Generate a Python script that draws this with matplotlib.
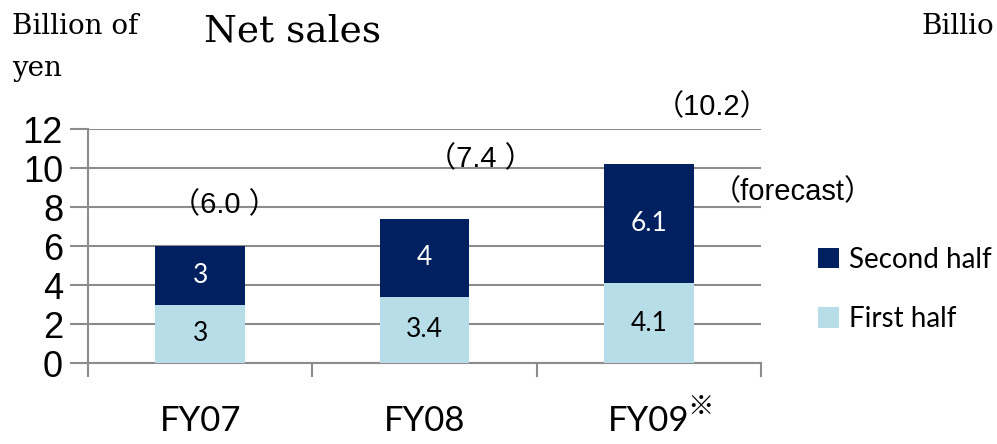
import matplotlib.pyplot as plt
import numpy as np

# data
years = ["FY07", "FY08", "FY09"]
first_half = [3, 3.4, 4.1]
second_half = [3, 4, 6.1]
first_labels = ["3", "3.4", "4.1"]
second_labels = ["3", "4", "6.1"]
totals = ["（6.0 ）", "（7.4 ）", "（10.2）"]

dark = "#002060"
light = "#b7dde8"
grid_c = "#8c8c8c"
lab_font = ["Lato", "DejaVu Sans"]
num_font = ["Liberation Sans", "Noto Sans CJK JP"]

W, H = 997, 444
fig = plt.figure(figsize=(W / 100, H / 100), dpi=100)
ax = fig.add_axes([88 / W, (H - 363) / H, 673 / W, (363 - 129) / H])

x = np.arange(len(years))
b1 = ax.bar(x, first_half, width=0.4, color=light, label="First half", zorder=3)
b2 = ax.bar(x, second_half, width=0.4, bottom=first_half, color=dark, label="Second half", zorder=3)

for i in range(len(years)):
    ax.text(x[i], first_half[i] / 2, first_labels[i], ha="center", va="center",
            fontsize=19, color="black", family=lab_font, zorder=4)
    ax.text(x[i], first_half[i] + second_half[i] / 2, second_labels[i], ha="center", va="center",
            fontsize=19, color="white", family=lab_font, zorder=4)

# total labels
tot_pos = [(0.11, 8.1), (1.25, 10.45), (2.28, 13.1)]
for (tx, ty), t in zip(tot_pos, totals):
    ax.text(tx, ty, t, ha="center", va="center", fontsize=21, family=num_font, clip_on=False)
ax.text(2.64, 8.75, "（forecast）", ha="center", va="center", fontsize=21, family=num_font, clip_on=False)

ax.set_xlim(-0.5, 2.5)
ax.set_ylim(0, 12)
ax.set_yticks(range(0, 13, 2))
ax.set_yticklabels([str(v) for v in range(0, 13, 2)], fontsize=26, family="Liberation Sans")
ax.tick_params(axis="y", length=13, width=1.5, color=grid_c, pad=5)
ax.yaxis.grid(True, color=grid_c, lw=1.5, zorder=0)

ax.set_xticks([-0.5, 0.5, 1.5, 2.5], minor=True)
ax.tick_params(axis="x", which="minor", length=10, width=1.5, color=grid_c)
ax.set_xticks(x)
ax.set_xticklabels(years, fontsize=25, family=lab_font)
ax.tick_params(axis="x", which="major", length=0, pad=30)

for s in ["top", "right"]:
    ax.spines[s].set_visible(False)
for s in ["left", "bottom"]:
    ax.spines[s].set_color(grid_c)
    ax.spines[s].set_linewidth(1.5)

ax.text(2.17, -2.3, "※", ha="left", va="center", fontsize=19,
        family=["Noto Sans CJK JP", "DejaVu Sans"], clip_on=False)

leg = fig.legend(handles=[b2, b1], loc="upper left", bbox_to_anchor=(793 / W, 1 - 222 / H),
                 frameon=False, prop={"family": lab_font, "size": 20},
                 handlelength=0.75, handleheight=0.75, labelspacing=1.2, handletextpad=0.35)

fig.text(12 / W, 1 - 27 / H, "Billion of", fontsize=20, family="DejaVu Serif", va="center")
fig.text(12 / W, 1 - 68 / H, "yen", fontsize=20, family="DejaVu Serif", va="center")
fig.text(204 / W, 1 - 31 / H, "Net sales", fontsize=27, family="DejaVu Serif", va="center")
fig.text(921 / W, 1 - 26 / H, "Billio", fontsize=20, family="DejaVu Serif", va="center")

fig.savefig("out.png", dpi=100)
